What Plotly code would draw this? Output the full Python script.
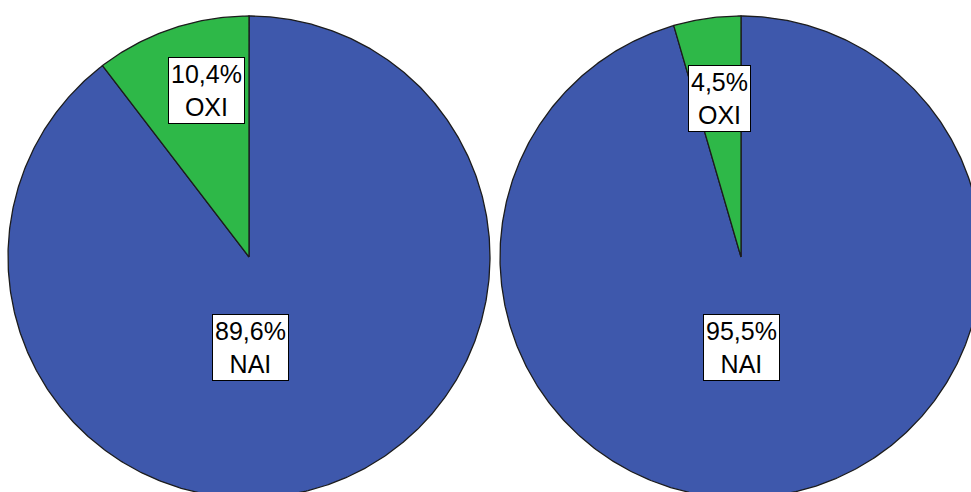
import numpy as np
import plotly.graph_objects as go

# ---- data ----
categories = ["NAI", "OXI"]
left_values = [89.6, 10.4]
right_values = [95.5, 4.5]
label_texts_left = ["89,6%", "10,4%"]
label_texts_right = ["95,5%", "4,5%"]

# ---- styles / layout ----
colors = {"NAI": "#3E58AC", "OXI": "#2EB848"}
W, H = 971, 492
pies = [
    {"cx": 249, "cy": 257, "r": 241, "values": left_values, "texts": label_texts_left,
     "label_pos": {"NAI": (250, 347), "OXI": (206.5, 90)}},
    {"cx": 741, "cy": 257, "r": 241, "values": right_values, "texts": label_texts_right,
     "label_pos": {"NAI": (741, 347), "OXI": (719.5, 98)}},
]

fig = go.Figure()
annotations = []
for pie in pies:
    total = sum(pie["values"])
    start = 0.0
    for cat, val, txt in zip(categories, pie["values"], pie["texts"]):
        span = 360.0 * val / total
        ang = np.radians(np.linspace(start, start + span, max(4, int(span * 2))))
        xs = np.concatenate([[pie["cx"]], pie["cx"] + pie["r"] * np.sin(ang), [pie["cx"]]])
        ys = np.concatenate([[pie["cy"]], pie["cy"] - pie["r"] * np.cos(ang), [pie["cy"]]])
        fig.add_trace(go.Scatter(
            x=xs, y=ys, mode="lines", fill="toself", fillcolor=colors[cat],
            line=dict(color="#1c1c1c", width=1.3), hoverinfo="skip", showlegend=False,
        ))
        start += span
        lx, ly = pie["label_pos"][cat]
        annotations.append(dict(
            x=lx, y=ly, xref="x", yref="y", text=f"{txt}<br>{cat}", showarrow=False,
            font=dict(family="Liberation Sans, Arial", size=25, color="black"),
            bgcolor="white", bordercolor="black", borderwidth=1, borderpad=2,
        ))

fig.update_layout(
    width=W, height=H, margin=dict(l=0, r=0, t=0, b=0),
    paper_bgcolor="white", plot_bgcolor="white",
    xaxis=dict(range=[0, W], visible=False, fixedrange=True),
    yaxis=dict(range=[H, 0], visible=False, fixedrange=True),
    annotations=annotations,
)
fig.write_html(
    "out.html",
    config={"displayModeBar": False},
    post_script="document.body.style.margin='0';document.body.style.overflow='hidden';",
)
